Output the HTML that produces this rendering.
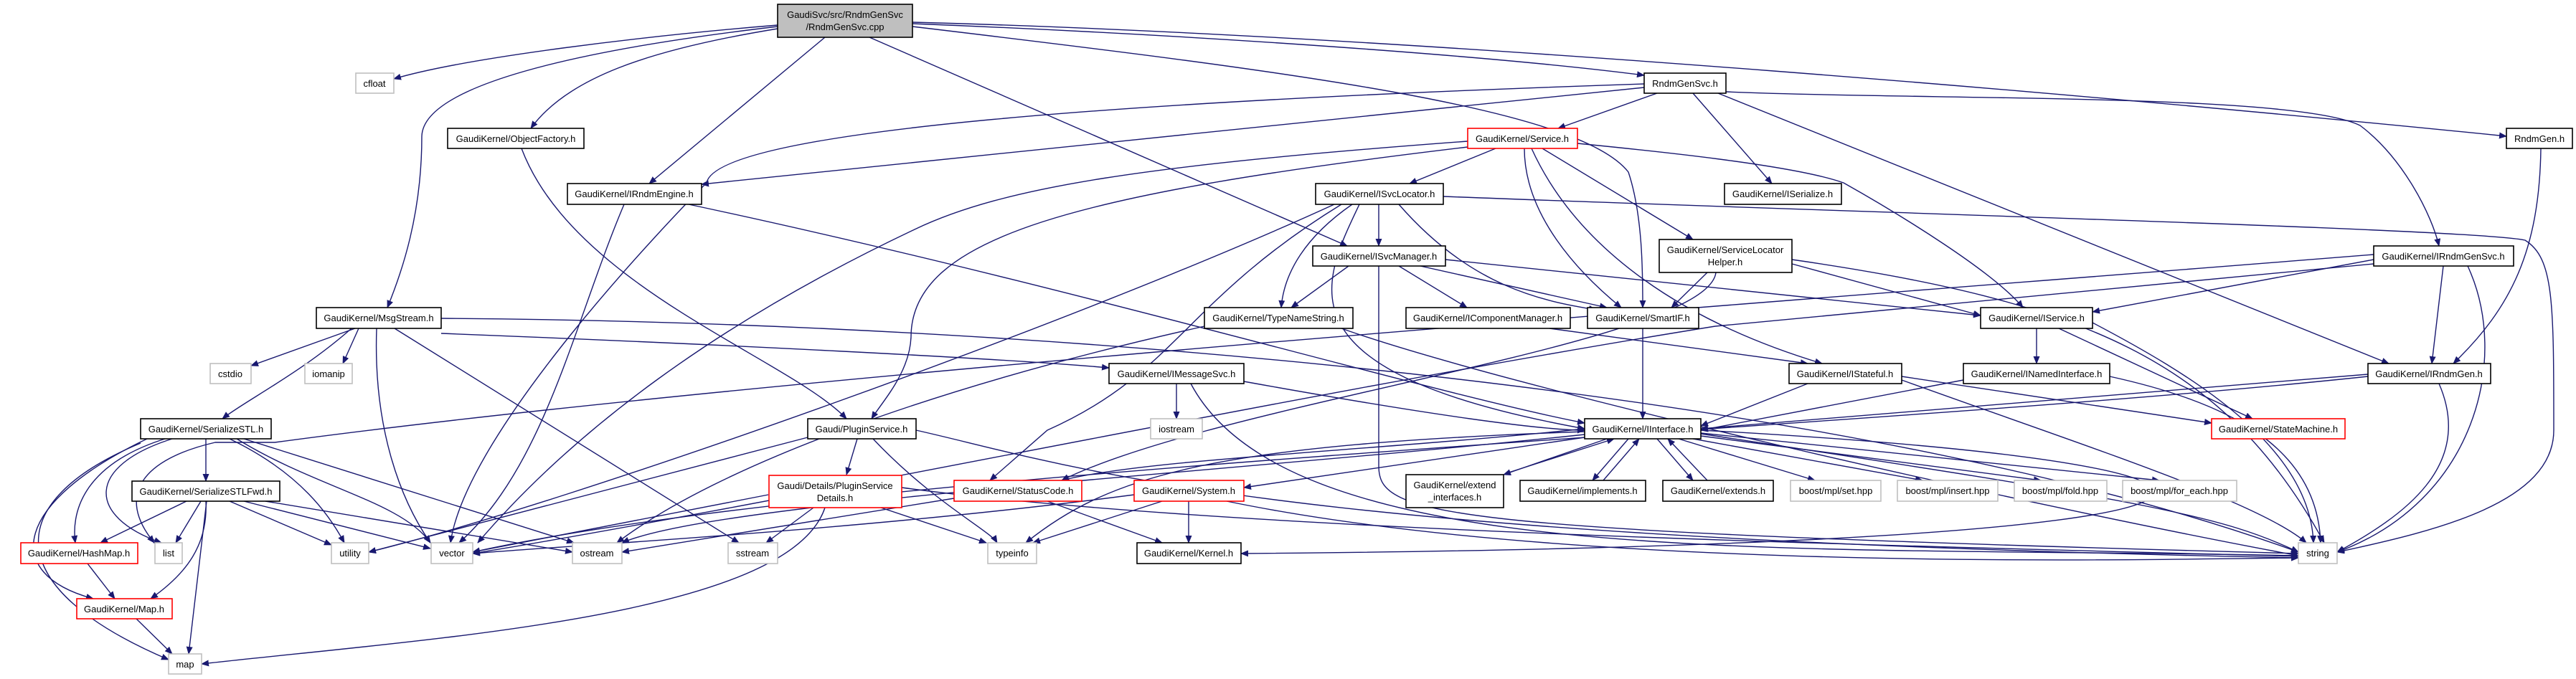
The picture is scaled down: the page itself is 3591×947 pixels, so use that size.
<!DOCTYPE html>
<html><head><meta charset="utf-8"><style>
html,body{margin:0;padding:0;background:#fff;}
svg{display:block;}
text{font-family:"Liberation Sans",Arial,sans-serif;font-size:13px;fill:#000;text-anchor:middle;}
.e{fill:none;stroke:#191970;stroke-width:1.4;marker-end:url(#a);}
.d{fill:#fff;stroke:#000;stroke-width:1.6;}
.s{fill:#fff;stroke:#bfbfbf;stroke-width:1.6;}
.r{fill:#fff;stroke:#ff0000;stroke-width:1.6;}
</style></head><body>
<svg width="3591" height="947" viewBox="0 0 3591 947" xmlns="http://www.w3.org/2000/svg">
<defs><marker id="a" markerWidth="11" markerHeight="9" refX="10" refY="4.5" orient="auto" markerUnits="userSpaceOnUse"><path d="M0,0 L11,4.5 L0,9 Z" fill="#191970"/></marker></defs>
<g>
<path class="e" d="M1084,35 C900,50 650,80 549,110"/>
<path class="e" d="M1084,37 C800,70 590,120 588,190 C588,300 560,380 540,429"/>
<path class="e" d="M1084,40 C900,70 790,110 740,179"/>
<path class="e" d="M1150,52 L905,256"/>
<path class="e" d="M1212,52 L1878,343"/>
<path class="e" d="M1272,37 C1800,100 2200,150 2270,240 C2290,300 2290,380 2290,429"/>
<path class="e" d="M1272,33 C1700,50 2100,80 2292,105"/>
<path class="e" d="M1272,31 C2000,50 3000,140 3494,190"/>
<path class="e" d="M2310,130 L2172,179"/>
<path class="e" d="M2292,117 C1600,140 1000,180 985,255 C940,300 650,600 628,757"/>
<path class="e" d="M2292,122 L978,257"/>
<path class="e" d="M2360,130 L2470,256"/>
<path class="e" d="M2395,130 L3330,507"/>
<path class="e" d="M2406,128 C2700,140 3200,130 3290,175 C3350,220 3390,300 3400,343"/>
<path class="e" d="M2085,207 L1965,256"/>
<path class="e" d="M2199,200 C2300,210 2500,230 2570,255 C2650,300 2780,380 2820,429"/>
<path class="e" d="M2150,207 L2360,334"/>
<path class="e" d="M2125,207 C2125,300 2200,380 2260,429"/>
<path class="e" d="M2135,207 C2200,350 2350,450 2540,507"/>
<path class="e" d="M2046,205 C1500,270 1270,330 1270,470 C1268,520 1230,560 1215,584"/>
<path class="e" d="M2046,197 C1600,230 1400,260 1275,320 C1000,450 800,600 666,757"/>
<path class="e" d="M1922,285 L1922,343"/>
<path class="e" d="M1885,285 C1820,330 1790,380 1786,429"/>
<path class="e" d="M1950,285 C2050,400 2150,420 2225,432"/>
<path class="e" d="M2012,274 C2700,300 3450,320 3520,335 C3560,360 3560,420 3560,600 C3560,700 3400,740 3258,770"/>
<path class="e" d="M1860,285 C1500,450 800,700 514,770"/>
<path class="e" d="M1870,285 C1650,420 1640,520 1460,600 L1380,670"/>
<path class="e" d="M1895,285 C1840,400 1780,520 2209,598"/>
<path class="e" d="M1880,371 L1800,429"/>
<path class="e" d="M1950,371 L2045,429"/>
<path class="e" d="M1980,371 L2240,429"/>
<path class="e" d="M2015,362 L2761,440"/>
<path class="e" d="M1922,371 L1922,650 C1922,720 2000,740 3204,772"/>
<path class="e" d="M1679,455 C1300,540 1000,650 860,757"/>
<path class="e" d="M1870,458 C2100,540 2800,700 3204,775"/>
<path class="e" d="M2160,458 L2520,507"/>
<path class="e" d="M2290,458 L2290,584"/>
<path class="e" d="M2380,380 L2330,429"/>
<path class="e" d="M2498,368 L2761,440"/>
<path class="e" d="M2392,380 C2380,480 1700,560 1480,670"/>
<path class="e" d="M2498,362 C2900,420 3100,500 3240,757"/>
<path class="e" d="M2839,458 L2839,507"/>
<path class="e" d="M2870,458 L3140,584"/>
<path class="e" d="M2917,450 C3050,520 3220,620 3225,757"/>
<path class="e" d="M2737,530 L2371,600"/>
<path class="e" d="M2941,525 C3100,560 3230,620 3235,757"/>
<path class="e" d="M2520,535 L2371,594"/>
<path class="e" d="M2651,525 L3083,590"/>
<path class="e" d="M2651,530 C2900,620 3150,700 3215,757"/>
<path class="e" d="M3309,362 L2917,435"/>
<path class="e" d="M3406,371 L3390,507"/>
<path class="e" d="M3440,371 C3500,500 3450,700 3258,770"/>
<path class="e" d="M3309,368 L2391,455 C1800,550 1100,700 659,772"/>
<path class="e" d="M3309,355 C2500,420 1100,520 383,617 L300,617 C200,640 160,690 215,757"/>
<path class="e" d="M3301,522 L2371,598"/>
<path class="e" d="M3400,535 C3450,650 3350,720 3258,770"/>
<path class="e" d="M3301,525 C2600,600 1200,650 659,770"/>
<path class="e" d="M3542,207 C3540,350 3500,430 3420,507"/>
<path class="e" d="M960,285 C1500,400 2000,550 2209,590"/>
<path class="e" d="M870,285 C800,450 760,650 640,757"/>
<path class="e" d="M727,207 C800,400 1100,500 1180,584"/>
<path class="e" d="M495,458 L350,510"/>
<path class="e" d="M500,458 L478,507"/>
<path class="e" d="M490,458 C420,520 340,560 310,584"/>
<path class="e" d="M525,458 C520,600 560,700 600,757"/>
<path class="e" d="M550,458 L1030,757"/>
<path class="e" d="M615,465 C1000,480 1400,500 1546,513"/>
<path class="e" d="M615,444 C1500,450 2600,550 3204,770"/>
<path class="e" d="M1640,535 L1640,584"/>
<path class="e" d="M1734,532 C2000,580 2150,600 2209,600"/>
<path class="e" d="M1660,535 C1800,800 2500,760 3204,775"/>
<path class="e" d="M1195,612 L1180,662"/>
<path class="e" d="M1217,612 C1300,700 1380,740 1390,757"/>
<path class="e" d="M1277,600 C1500,650 1750,750 3204,778"/>
<path class="e" d="M1126,610 L514,770"/>
<path class="e" d="M1150,708 C1100,860 600,890 281,926"/>
<path class="e" d="M1134,708 L1068,757"/>
<path class="e" d="M1228,708 L1375,757"/>
<path class="e" d="M1071,690 L659,770"/>
<path class="e" d="M1257,680 C1700,740 2600,760 3204,776"/>
<path class="e" d="M2209,598 C1900,630 1600,640 1480,670"/>
<path class="e" d="M2209,610 L1734,680"/>
<path class="e" d="M2240,612 L2096,662"/>
<path class="e" d="M2100,660 L2250,612"/>
<path class="e" d="M2270,612 L2220,670"/>
<path class="e" d="M2235,670 L2285,612"/>
<path class="e" d="M2310,612 L2360,670"/>
<path class="e" d="M2380,670 L2325,612"/>
<path class="e" d="M2340,612 L2530,670"/>
<path class="e" d="M2360,612 L2680,670"/>
<path class="e" d="M2371,608 L2845,670"/>
<path class="e" d="M2371,604 L3010,670"/>
<path class="e" d="M2371,605 C3000,700 3100,720 3204,770"/>
<path class="e" d="M2371,600 C3300,650 3300,760 1730,772"/>
<path class="e" d="M2209,606 C1700,660 1000,700 867,757"/>
<path class="e" d="M2209,602 C1700,620 1550,660 1430,757"/>
<path class="e" d="M1330,695 L867,770"/>
<path class="e" d="M1460,699 L1620,757"/>
<path class="e" d="M1620,699 L1440,757"/>
<path class="e" d="M1657,699 L1657,757"/>
<path class="e" d="M1710,699 C2200,800 3000,780 3204,778"/>
<path class="e" d="M1581,690 C1200,740 800,760 659,772"/>
<path class="e" d="M287,612 L287,671"/>
<path class="e" d="M230,612 C110,650 100,720 105,757"/>
<path class="e" d="M205,612 C20,700 0,800 130,835"/>
<path class="e" d="M196,618 C0,700 0,820 235,920"/>
<path class="e" d="M240,612 C120,650 120,720 225,757"/>
<path class="e" d="M320,612 C420,660 460,720 480,757"/>
<path class="e" d="M330,612 C440,680 560,700 600,757"/>
<path class="e" d="M340,612 L800,757"/>
<path class="e" d="M260,699 L140,757"/>
<path class="e" d="M280,699 L245,757"/>
<path class="e" d="M287,699 C290,760 260,800 210,835"/>
<path class="e" d="M288,699 L263,912"/>
<path class="e" d="M320,699 L462,760"/>
<path class="e" d="M340,699 L600,765"/>
<path class="e" d="M370,699 L798,770"/>
<path class="e" d="M122,786 L160,835"/>
<path class="e" d="M190,863 L240,912"/>
</g>
<g>
<rect x="1084" y="6" width="188" height="46" fill="#bfbfbf" stroke="#000" stroke-width="1.6"/><text x="1178" y="25">GaudiSvc/src/RndmGenSvc</text><text x="1178" y="42">/RndmGenSvc.cpp</text>
<rect class="s" x="496" y="102" width="53" height="28"/><text x="522" y="121">cfloat</text>
<rect class="d" x="624" y="179" width="190" height="28"/><text x="719" y="198">GaudiKernel/ObjectFactory.h</text>
<rect class="d" x="791" y="256" width="187" height="29"/><text x="884" y="275">GaudiKernel/IRndmEngine.h</text>
<rect class="d" x="441" y="429" width="174" height="29"/><text x="528" y="448">GaudiKernel/MsgStream.h</text>
<rect class="s" x="293" y="507" width="57" height="28"/><text x="321" y="526">cstdio</text>
<rect class="s" x="425" y="507" width="66" height="28"/><text x="458" y="526">iomanip</text>
<rect class="d" x="196" y="584" width="182" height="28"/><text x="287" y="603">GaudiKernel/SerializeSTL.h</text>
<rect class="d" x="184" y="671" width="206" height="28"/><text x="287" y="690">GaudiKernel/SerializeSTLFwd.h</text>
<rect class="r" x="29" y="757" width="163" height="29"/><text x="110" y="776">GaudiKernel/HashMap.h</text>
<rect class="s" x="216" y="757" width="38" height="29"/><text x="235" y="776">list</text>
<rect class="s" x="462" y="757" width="52" height="29"/><text x="488" y="776">utility</text>
<rect class="s" x="601" y="757" width="58" height="29"/><text x="630" y="776">vector</text>
<rect class="s" x="798" y="757" width="69" height="29"/><text x="832" y="776">ostream</text>
<rect class="s" x="1015" y="757" width="69" height="29"/><text x="1049" y="776">sstream</text>
<rect class="r" x="107" y="835" width="133" height="28"/><text x="173" y="854">GaudiKernel/Map.h</text>
<rect class="s" x="235" y="912" width="46" height="28"/><text x="258" y="931">map</text>
<rect class="d" x="1126" y="584" width="151" height="28"/><text x="1201" y="603">Gaudi/PluginService.h</text>
<rect class="r" x="1072" y="663" width="185" height="45"/><text x="1164" y="682">Gaudi/Details/PluginService</text><text x="1164" y="699">Details.h</text>
<rect class="d" x="2292" y="102" width="114" height="28"/><text x="2349" y="121">RndmGenSvc.h</text>
<rect class="r" x="2046" y="179" width="153" height="28"/><text x="2122" y="198">GaudiKernel/Service.h</text>
<rect class="d" x="1834" y="256" width="178" height="29"/><text x="1923" y="275">GaudiKernel/ISvcLocator.h</text>
<rect class="d" x="1830" y="343" width="185" height="28"/><text x="1922" y="362">GaudiKernel/ISvcManager.h</text>
<rect class="d" x="1679" y="429" width="207" height="29"/><text x="1782" y="448">GaudiKernel/TypeNameString.h</text>
<rect class="d" x="1960" y="429" width="229" height="29"/><text x="2074" y="448">GaudiKernel/IComponentManager.h</text>
<rect class="d" x="2213" y="429" width="155" height="29"/><text x="2290" y="448">GaudiKernel/SmartIF.h</text>
<rect class="d" x="2313" y="334" width="185" height="46"/><text x="2405" y="353">GaudiKernel/ServiceLocator</text><text x="2405" y="370">Helper.h</text>
<rect class="d" x="3494" y="179" width="92" height="28"/><text x="3540" y="198">RndmGen.h</text>
<rect class="d" x="2404" y="256" width="163" height="29"/><text x="2485" y="275">GaudiKernel/ISerialize.h</text>
<rect class="d" x="3309" y="343" width="195" height="28"/><text x="3406" y="362">GaudiKernel/IRndmGenSvc.h</text>
<rect class="d" x="2761" y="429" width="156" height="29"/><text x="2839" y="448">GaudiKernel/IService.h</text>
<rect class="d" x="1546" y="507" width="188" height="28"/><text x="1640" y="526">GaudiKernel/IMessageSvc.h</text>
<rect class="s" x="1604" y="584" width="72" height="28"/><text x="1640" y="603">iostream</text>
<rect class="r" x="1330" y="670" width="178" height="29"/><text x="1419" y="689">GaudiKernel/StatusCode.h</text>
<rect class="r" x="1581" y="670" width="153" height="29"/><text x="1657" y="689">GaudiKernel/System.h</text>
<rect class="s" x="1377" y="757" width="68" height="29"/><text x="1411" y="776">typeinfo</text>
<rect class="d" x="1585" y="757" width="145" height="29"/><text x="1657" y="776">GaudiKernel/Kernel.h</text>
<rect class="d" x="2209" y="584" width="162" height="28"/><text x="2290" y="603">GaudiKernel/IInterface.h</text>
<rect class="d" x="1960" y="662" width="136" height="46"/><text x="2028" y="681">GaudiKernel/extend</text><text x="2028" y="698">_interfaces.h</text>
<rect class="d" x="2119" y="670" width="175" height="29"/><text x="2206" y="689">GaudiKernel/implements.h</text>
<rect class="d" x="2318" y="670" width="154" height="29"/><text x="2395" y="689">GaudiKernel/extends.h</text>
<rect class="d" x="2494" y="507" width="157" height="28"/><text x="2572" y="526">GaudiKernel/IStateful.h</text>
<rect class="d" x="2737" y="507" width="204" height="28"/><text x="2839" y="526">GaudiKernel/INamedInterface.h</text>
<rect class="d" x="3301" y="507" width="171" height="28"/><text x="3386" y="526">GaudiKernel/IRndmGen.h</text>
<rect class="r" x="3083" y="584" width="186" height="28"/><text x="3176" y="603">GaudiKernel/StateMachine.h</text>
<rect class="s" x="2496" y="670" width="126" height="29"/><text x="2559" y="689">boost/mpl/set.hpp</text>
<rect class="s" x="2645" y="670" width="140" height="29"/><text x="2715" y="689">boost/mpl/insert.hpp</text>
<rect class="s" x="2808" y="670" width="129" height="29"/><text x="2872" y="689">boost/mpl/fold.hpp</text>
<rect class="s" x="2959" y="670" width="159" height="29"/><text x="3038" y="689">boost/mpl/for_each.hpp</text>
<rect class="s" x="3204" y="757" width="54" height="29"/><text x="3231" y="776">string</text>
</g>
</svg>
</body></html>
